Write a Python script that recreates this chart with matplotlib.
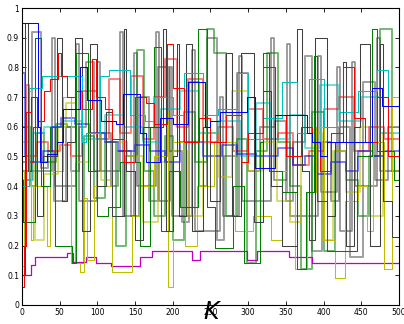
import matplotlib
matplotlib.use("Agg")
import matplotlib.pyplot as plt

# matlab-style colour order
BLUE = (0, 0, 1)
GREEN = (0, 0.5, 0)
RED = (1, 0, 0)
CYAN = (0, 0.75, 0.75)
MAGENTA = (0.75, 0, 0.75)
YELLOW = (0.75, 0.75, 0)
BLACK = (0.25, 0.25, 0.25)

# step series: x = change points, y = level held from that point on
blue1_x = [0, 22, 24, 33, 46, 55, 62, 77, 87, 105, 125, 134, 156, 165, 183, 200, 220, 243, 250, 262,
           299, 309, 335, 378, 385, 395, 405, 464, 477, 500]
blue1_y = [0.95, 0.60, 0.48, 0.51, 0.55, 0.66, 0.66, 0.80, 0.69, 0.62, 0.61, 0.71, 0.58, 0.48, 0.63,
           0.61, 0.75, 0.60, 0.62, 0.65, 0.70, 0.46, 0.64, 0.58, 0.55, 0.50, 0.55, 0.73, 0.67, 0.67]

blue2_x = [0, 4, 10, 28, 40, 52, 70, 90, 110, 128, 150, 170, 190, 210, 240, 265, 285, 310, 340, 360,
           375, 390, 410, 430, 445, 465, 480, 500]
blue2_y = [0.78, 0.50, 0.48, 0.52, 0.60, 0.63, 0.61, 0.58, 0.55, 0.52, 0.54, 0.52, 0.48, 0.55, 0.50,
           0.54, 0.51, 0.50, 0.53, 0.47, 0.50, 0.44, 0.48, 0.45, 0.52, 0.50, 0.52, 0.52]

red1_x = [0, 3, 6, 12, 15, 20, 30, 38, 48, 52, 60, 70, 80, 93, 98, 110, 120, 135, 150, 165, 175, 192,
          200, 215, 235, 250, 270, 290, 300, 320, 335, 350, 370, 385, 395, 410, 425, 440, 455, 470, 485, 500]
red1_y = [0.06, 0.20, 0.65, 0.48, 0.60, 0.62, 0.72, 0.76, 0.85, 0.77, 0.70, 0.72, 0.66, 0.83, 0.70,
          0.66, 0.56, 0.48, 0.70, 0.68, 0.61, 0.88, 0.73, 0.55, 0.63, 0.55, 0.64, 0.48, 0.58, 0.80,
          0.64, 0.50, 0.60, 0.55, 0.45, 0.58, 0.80, 0.63, 0.55, 0.70, 0.50, 0.50]

red2_x = [0, 5, 10, 20, 35, 50, 65, 80, 100, 115, 130, 145, 160, 175, 190, 205, 220, 240, 260, 280,
          300, 320, 340, 360, 380, 400, 420, 440, 460, 480, 500]
red2_y = [0.30, 0.74, 0.50, 0.55, 0.52, 0.54, 0.50, 0.72, 0.56, 0.76, 0.58, 0.77, 0.56, 0.70, 0.83,
          0.60, 0.76, 0.55, 0.60, 0.52, 0.66, 0.56, 0.58, 0.47, 0.52, 0.66, 0.70, 0.52, 0.60, 0.56, 0.56]

cyan1_x = [0, 10, 13, 27, 80, 85, 103, 115, 143, 163, 175, 200, 215, 240, 260, 285, 300, 320, 345,
           365, 380, 400, 420, 445, 470, 485, 500]
cyan1_y = [0.40, 0.73, 0.73, 0.77, 0.55, 0.58, 0.77, 0.79, 0.64, 0.62, 0.70, 0.64, 0.78, 0.64, 0.66,
           0.78, 0.56, 0.63, 0.75, 0.58, 0.76, 0.60, 0.65, 0.72, 0.79, 0.60, 0.60]

cyan2_x = [0, 15, 30, 55, 80, 110, 135, 160, 185, 210, 235, 260, 290, 310, 330, 355, 375, 395, 420,
           450, 475, 500]
cyan2_y = [0.42, 0.58, 0.60, 0.62, 0.56, 0.64, 0.60, 0.55, 0.66, 0.72, 0.58, 0.62, 0.50, 0.68, 0.56,
           0.64, 0.53, 0.74, 0.62, 0.70, 0.58, 0.58]

green1_x = [0, 2, 18, 25, 38, 44, 66, 72, 88, 100, 114, 130, 156, 170, 175, 185, 195, 210, 233, 246,
            256, 280, 295, 315, 319, 328, 345, 364, 377, 387, 391, 404, 444, 464, 470, 493, 500]
green1_y = [0.42, 0.28, 0.90, 0.40, 0.60, 0.20, 0.14, 0.85, 0.45, 0.30, 0.33, 0.48, 0.20, 0.60, 0.87,
            0.25, 0.45, 0.33, 0.93, 0.33, 0.19, 0.40, 0.14, 0.55, 0.85, 0.45, 0.38, 0.12, 0.38, 0.84,
            0.35, 0.18, 0.50, 0.93, 0.52, 0.42, 0.42]

green2_x = [0, 12, 20, 30, 45, 60, 72, 82, 95, 110, 125, 138, 152, 162, 175, 190, 200, 215, 230, 245,
            255, 270, 285, 298, 310, 325, 340, 355, 370, 385, 400, 415, 430, 445, 460, 475, 490, 500]
green2_y = [0.60, 0.40, 0.58, 0.48, 0.61, 0.60, 0.14, 0.57, 0.36, 0.55, 0.20, 0.50, 0.86, 0.45, 0.30,
            0.57, 0.22, 0.65, 0.48, 0.93, 0.85, 0.30, 0.56, 0.14, 0.52, 0.85, 0.55, 0.40, 0.12, 0.65,
            0.18, 0.52, 0.42, 0.30, 0.50, 0.93, 0.45, 0.45]

yellow1_x = [0, 3, 8, 12, 15, 33, 38, 55, 65, 77, 83, 86, 95, 119, 146, 155, 175, 192, 194, 200, 216,
             232, 255, 282, 306, 330, 345, 352, 362, 378, 390, 400, 415, 428, 445, 457, 465, 480, 490, 500]
yellow1_y = [0.13, 0.45, 0.72, 0.22, 0.40, 0.20, 0.45, 0.70, 0.14, 0.11, 0.36, 0.15, 0.40, 0.11, 0.30,
             0.40, 0.50, 0.65, 0.06, 0.55, 0.20, 0.40, 0.55, 0.25, 0.30, 0.22, 0.45, 0.38, 0.12, 0.38,
             0.60, 0.22, 0.09, 0.35, 0.40, 0.25, 0.55, 0.12, 0.70, 0.70]

yellow2_x = [0, 10, 18, 30, 48, 58, 72, 90, 105, 120, 140, 160, 180, 200, 220, 240, 260, 278, 300,
             318, 338, 355, 370, 385, 398, 412, 430, 448, 462, 478, 492, 500]
yellow2_y = [0.55, 0.48, 0.22, 0.44, 0.60, 0.68, 0.48, 0.58, 0.42, 0.55, 0.50, 0.28, 0.48, 0.52, 0.30,
             0.58, 0.43, 0.72, 0.45, 0.55, 0.35, 0.28, 0.50, 0.58, 0.22, 0.52, 0.38, 0.60, 0.30, 0.58,
             0.45, 0.45]

black1_x = [0, 4, 8, 12, 20, 28, 46, 53, 60, 70, 80, 90, 100, 112, 120, 135, 138, 150, 160, 187, 191,
            200, 205, 208, 218, 226, 240, 250, 262, 271, 278, 291, 307, 320, 330, 345, 364, 371, 380,
            389, 404, 415, 426, 430, 440, 448, 462, 475, 478, 490, 500]
black1_y = [0.10, 0.95, 0.45, 0.70, 0.30, 0.50, 0.90, 0.35, 0.55, 0.90, 0.25, 0.88, 0.40, 0.65, 0.30,
            0.93, 0.45, 0.22, 0.60, 0.93, 0.25, 0.50, 0.88, 0.30, 0.88, 0.25, 0.60, 0.35, 0.65, 0.85,
            0.30, 0.85, 0.28, 0.72, 0.40, 0.20, 0.93, 0.45, 0.22, 0.90, 0.30, 0.55, 0.82, 0.20, 0.60,
            0.88, 0.20, 0.88, 0.35, 0.23, 0.23]

black2_x = [0, 6, 14, 25, 35, 42, 58, 65, 76, 85, 95, 105, 118, 128, 145, 155, 168, 180, 195, 212,
            222, 235, 245, 258, 268, 285, 300, 315, 335, 350, 360, 375, 385, 398, 410, 420, 435, 452,
            468, 485, 500]
black2_y = [0.48, 0.42, 0.92, 0.46, 0.52, 0.35, 0.60, 0.45, 0.60, 0.82, 0.45, 0.58, 0.40, 0.52, 0.30,
            0.70, 0.35, 0.80, 0.52, 0.28, 0.75, 0.40, 0.90, 0.22, 0.50, 0.78, 0.45, 0.60, 0.62, 0.35,
            0.55, 0.84, 0.18, 0.55, 0.35, 0.60, 0.16, 0.75, 0.42, 0.60, 0.60]

# narrow grey spikes
black3_x = [0, 40, 44, 72, 76, 100, 104, 130, 134, 148, 152, 178, 182, 196, 199, 225, 229, 262, 266,
            288, 292, 330, 334, 352, 356, 392, 396, 418, 422, 438, 442, 470, 474, 494, 500]
black3_y = [0.45, 0.90, 0.40, 0.88, 0.35, 0.82, 0.45, 0.92, 0.30, 0.85, 0.40, 0.92, 0.35, 0.80, 0.30,
            0.86, 0.25, 0.70, 0.30, 0.84, 0.35, 0.90, 0.42, 0.88, 0.30, 0.84, 0.38, 0.80, 0.25, 0.82,
            0.40, 0.90, 0.45, 0.45, 0.45]

magenta_x = [0, 12, 18, 60, 68, 85, 98, 118, 156, 172, 225, 236, 298, 312, 322, 354, 385, 500]
magenta_y = [0.10, 0.135, 0.16, 0.175, 0.145, 0.16, 0.14, 0.13, 0.16, 0.18, 0.15, 0.18, 0.15, 0.18,
             0.18, 0.16, 0.14, 0.14]

series = [
    (black2_x, black2_y, BLACK, 1.4, 0.5),
    (black3_x, black3_y, BLACK, 1.2, 0.6),
    (green2_x, green2_y, GREEN, 1.4, 0.55),
    (yellow2_x, yellow2_y, YELLOW, 1.4, 0.55),
    (red2_x, red2_y, RED, 1.4, 0.5),
    (cyan2_x, cyan2_y, CYAN, 1.4, 0.55),
    (blue2_x, blue2_y, BLUE, 1.4, 0.5),
    (magenta_x, magenta_y, MAGENTA, 0.9, 1.0),
    (yellow1_x, yellow1_y, YELLOW, 0.75, 1.0),
    (green1_x, green1_y, GREEN, 0.75, 1.0),
    (black1_x, black1_y, BLACK, 0.75, 1.0),
    (cyan1_x, cyan1_y, CYAN, 0.75, 1.0),
    (red1_x, red1_y, RED, 0.75, 1.0),
    (blue1_x, blue1_y, BLUE, 0.75, 1.0),
]

fig = plt.figure(figsize=(4.04, 3.24), dpi=100)
ax = fig.add_axes([0.054, 0.059, 0.934, 0.916])

for xs, ys, col, lw, a in series:
    ax.step(xs, ys, where="post", color=col, lw=lw, alpha=a)

ax.set_xlim(0, 500)
ax.set_ylim(0, 1)
ax.set_xticks(range(0, 501, 50))
ax.set_yticks([i / 10 for i in range(11)])
ax.set_yticklabels(["0"] + ["0.%d" % i for i in range(1, 10)] + ["1"])
ax.tick_params(direction="in", length=3, width=0.6, labelsize=5.5, pad=2,
               top=True, right=True)
for s in ax.spines.values():
    s.set_linewidth(0.8)

fig.text(211 / 404, 0.075, "K", ha="center", va="top", fontsize=17, style="italic")

fig.savefig("out.png", dpi=100)
